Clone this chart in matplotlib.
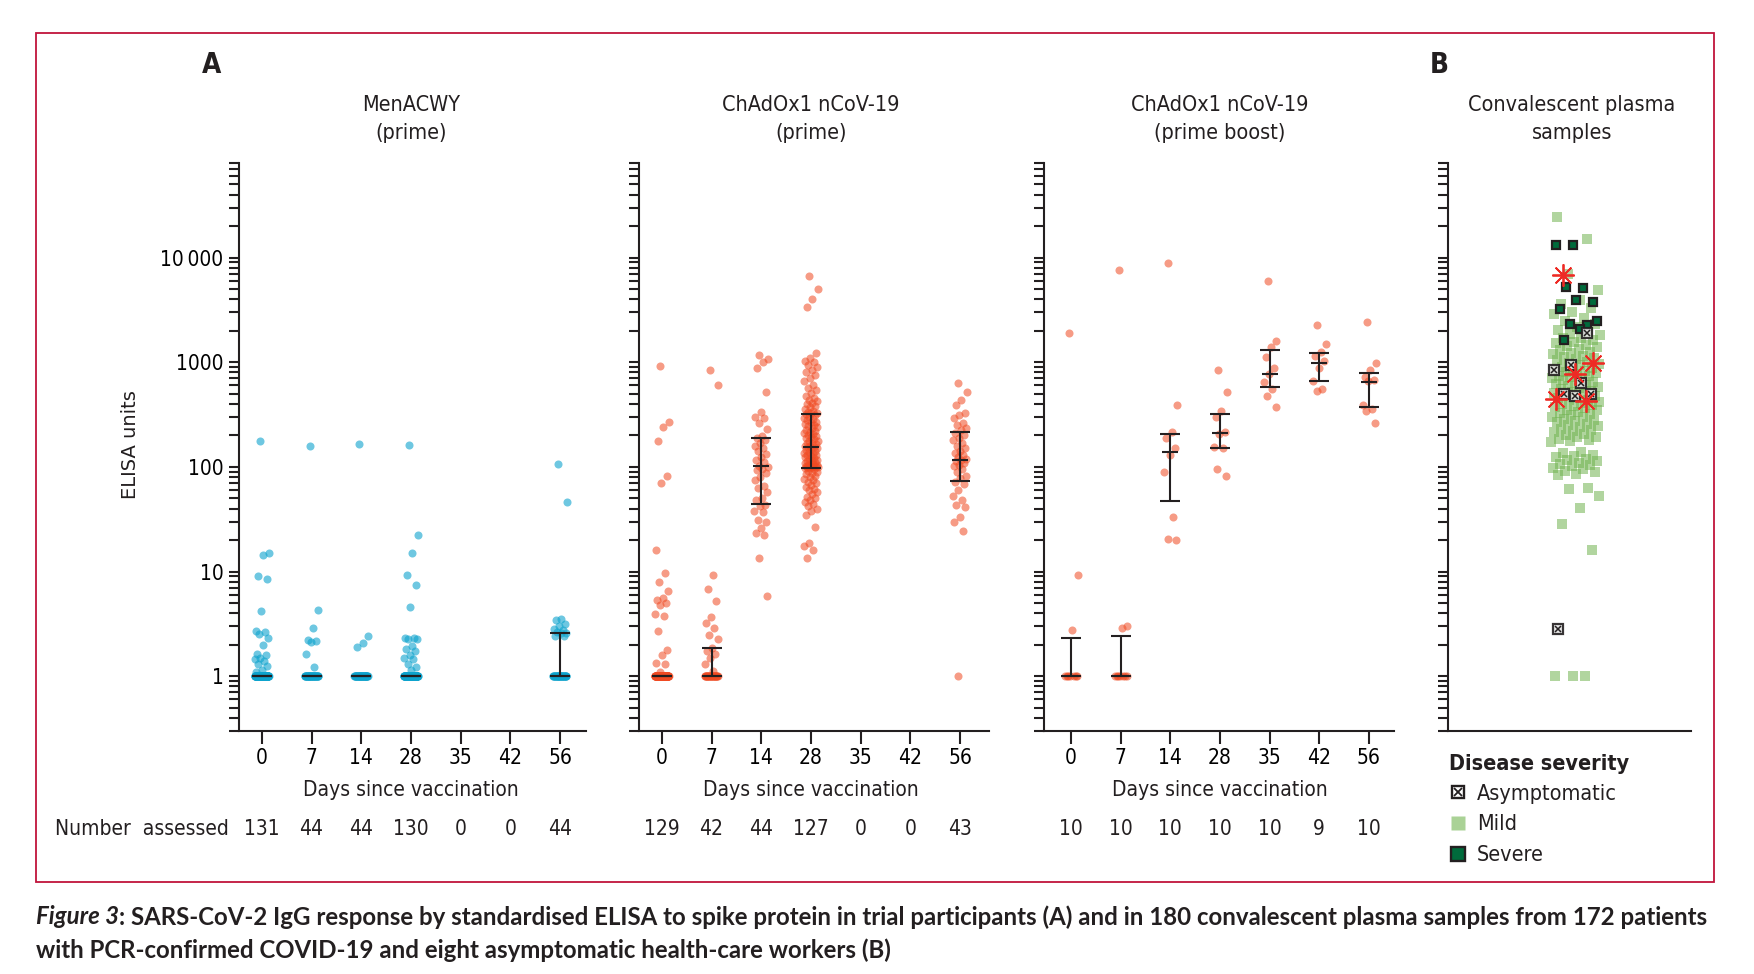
import numpy as np
import matplotlib
matplotlib.use("Agg")
import matplotlib.pyplot as plt
from matplotlib import font_manager as fm
from matplotlib.ticker import FixedLocator, FixedFormatter, LogLocator, NullFormatter
from matplotlib.lines import Line2D
from matplotlib.patches import Rectangle
from matplotlib.transforms import blended_transform_factory
from matplotlib.legend_handler import HandlerTuple

# ---------------- data ----------------
days = [0, 7, 14, 28, 35, 42, 56]
day_labels = ["0", "7", "14", "28", "35", "42", "56"]

menacwy_n = [131, 44, 44, 130, 0, 0, 44]
chad_prime_n = [129, 42, 44, 127, 0, 0, 43]
chad_boost_n = [10, 10, 10, 10, 10, 9, 10]

menacwy_d0 = [175, 15.1, 14.5, 9.0, 8.5, 4.16, 2.73, 2.64, 2.55, 2.3, 2.0, 1.62, 1.58,
              1.49, 1.45, 1.4, 1.31, 1.25, 1.15, 1.1] + [1] * 111
menacwy_d7 = [159, 4.27, 2.92, 2.2, 2.17, 2.12, 1.62, 1.22] + [1] * 36
menacwy_d14 = [167, 2.4, 2.08, 1.91] + [1] * 40
menacwy_d28 = [163, 22.6, 15, 9.35, 7.4, 4.56, 2.32, 2.3, 2.28, 2.25, 1.96, 1.84, 1.73,
               1.6, 1.49, 1.45, 1.3, 1.23, 1.15] + [1] * 111
menacwy_d56 = [107, 46.4, 3.5, 3.45, 3.17, 3.0, 2.8, 2.75, 2.65, 2.6, 2.57, 2.45, 2.42] + [1] * 31
menacwy_values = [menacwy_d0, menacwy_d7, menacwy_d14, menacwy_d28, [], [], menacwy_d56]
menacwy_median = [1, 1, 1, 1, None, None, 1]
menacwy_q1 = [1, 1, 1, 1, None, None, 1]
menacwy_q3 = [1, 1, 1, 1, None, None, 2.57]

prime_d0 = [927, 270, 240, 176, 81.7, 70.8, 16.2, 9.76, 7.96, 6.5, 5.63, 5.36, 4.97, 4.76,
            3.92, 3.76, 2.73, 1.8, 1.59, 1.33, 1.31, 1.1] + [1] * 107
prime_d7 = [845, 603, 9.35, 6.79, 5.18, 3.66, 3.26, 2.92, 2.5, 2.27, 1.88, 1.76, 1.62,
            1.51, 1.31, 1.13] + [1] * 26
prime_d14 = [1183, 1070, 1000, 880, 522, 337, 300, 290, 261, 230, 198,
             188, 180, 171, 160, 150, 141, 133, 125, 117, 111, 102, 100, 96, 92.6, 88, 80,
             74.6, 66, 62.5, 57, 50, 48.5,
             43, 42, 38, 37, 31, 29.6, 26.1, 23.5, 22.6, 13.4, 5.83]
prime_d28 = [6670, 5050, 4050, 3340, 1213, 1090, 1030, 1000, 950, 900, 845, 800, 760, 700,
             660, 603, 570, 540, 510, 472, 455, 440, 425, 407, 395, 380, 370, 356, 345, 338,
             330, 325,
             318, 310, 301, 296, 287, 279, 270, 266, 258, 251, 246, 238, 233, 227, 220, 216,
             211, 205, 200, 196, 191, 187, 183, 178, 175, 171, 168, 164, 160, 158, 156, 154,
             151, 148, 145, 142, 140, 137, 134, 131, 129, 126, 124, 121, 119, 117, 115, 113,
             111, 109, 108, 106, 105, 104, 103, 102, 101, 100.5, 100, 99.6, 99.2, 98.9, 98.6,
             97, 95, 92, 90, 87, 85, 82, 80, 77, 75, 72, 70, 67, 64, 62, 60, 57, 55, 52, 50,
             48, 46, 44, 42, 40, 38, 34.5, 26.6, 18.7, 17.5, 16.2, 13.5]
prime_d56 = [640, 514, 437, 389, 330, 310, 295, 265, 250, 235, 225,
             210, 200, 190, 182, 170, 160, 150, 141, 135, 130, 125, 120, 117, 114, 110, 105,
             101, 95, 89, 82, 78.4,
             72, 69, 60, 52.3, 48, 43.3, 41, 33, 29.6, 24.4, 1]
prime_values = [prime_d0, prime_d7, prime_d14, prime_d28, [], [], prime_d56]
prime_median = [1, 1, 101, 156, None, None, 117]
prime_q1 = [1, 1, 44.5, 98.4, None, None, 73.8]
prime_q3 = [1, 1.87, 190, 323, None, None, 217]

boost_d0 = [1914, 9.27, 2.77] + [1] * 7
boost_d7 = [7640, 3.0, 2.92] + [1] * 7
boost_d14 = [8960, 392, 215, 190, 150, 130, 89, 33, 20.3, 20.0]
boost_d28 = [845, 522, 340, 300, 215, 205, 154, 150, 95, 81.7]
boost_d35 = [5980, 1603, 1400, 1116, 889, 780, 645, 560, 472, 370]
boost_d42 = [2285, 1486, 1240, 1140, 1030, 889, 660, 560, 535]
boost_d56 = [2424, 991, 845, 730, 680, 660, 389, 356, 345, 260]
boost_values = [boost_d0, boost_d7, boost_d14, boost_d28, boost_d35, boost_d42, boost_d56]
boost_median = [1, 1, 140, 212, 777, 991, 646]
boost_q1 = [1, 1, 47.6, 152, 583, 656, 370]
boost_q3 = [2.3, 2.42, 208, 323, 1321, 1235, 796]

conv_mild = [24300, 15000, 6950, 4900, 3900,
             3600, 3300, 3050, 2900, 2650, 2500, 2300, 2150,
             2050, 1950, 1880, 1800, 1720, 1700, 1640, 1560, 1530, 1470, 1430, 1390, 1340,
             1310, 1260, 1230, 1200, 1150, 1130, 1090, 1070, 1040, 1010,
             990, 955, 940, 910, 890, 865, 850, 830, 805, 790, 770, 745, 735, 715, 700, 680,
             670, 650, 640, 625, 605, 595, 575, 565, 550, 535, 525, 510, 500, 485, 478, 462,
             455, 440, 432,
             420, 412, 400, 388, 380, 370, 363, 352, 346, 336, 330, 320, 314, 303, 298, 288,
             283, 274, 268, 258, 254, 245, 240, 231, 227, 220, 215, 207, 203, 195, 192, 185,
             182, 176, 174,
             138, 135, 131, 128, 124, 120, 116, 113, 110, 106, 104, 101, 98, 95, 92, 89, 86,
             84,
             63.4, 61.8, 53,
             40.5, 28.5, 16,
             1, 1, 1]
conv_severe = [13100, 13100, 5090, 5200, 3800, 3930, 3200, 2285, 2330, 2450, 2070, 1630]
conv_asymptomatic = [1900, 943, 845, 630, 500, 495, 480, 2.8]
conv_starred = [6840, 984, 777, 441, 430]

legend_labels = ["Asymptomatic", "Mild", "Severe"]

# ---------------- fonts ----------------
ttf = fm.fontManager.ttflist
names = {f.name for f in ttf}
STRETCH = "normal"
if "Liberation Sans Narrow" in names:
    FAM = "Liberation Sans Narrow"
elif any(f.name == "DejaVu Sans" and str(f.stretch) == "condensed" for f in ttf):
    FAM = "DejaVu Sans"
    STRETCH = "condensed"
else:
    FAM = "Liberation Sans"
CAPFAM = "Lato" if "Lato" in names else FAM
plt.rcParams["font.family"] = [FAM, "DejaVu Sans"]
plt.rcParams["font.stretch"] = STRETCH
INK = "#231F20"
plt.rcParams["text.color"] = INK

# ---------------- figure / layout ----------------
W, H = 1754, 974
fig = plt.figure(figsize=(W / 100, H / 100), dpi=100)


def fx(px):
    return px / W


def fy(py):
    return 1 - py / H


TOP, BOT = 163, 731
STEP = 49.7
YLIM = (0.3, 80000)
LW = 1.5

panels = [
    dict(left=239, zero=261.8, right=586, title=("MenACWY", "(prime)"),
         values=menacwy_values, med=menacwy_median, q1=menacwy_q1, q3=menacwy_q3,
         n=menacwy_n, color="#0DA3CD", alpha=0.6),
    dict(left=639, zero=661.8, right=988.5, title=("ChAdOx1 nCoV-19", "(prime)"),
         values=prime_values, med=prime_median, q1=prime_q1, q3=prime_q3,
         n=chad_prime_n, color="#F04A22", alpha=0.55),
    dict(left=1044, zero=1070.8, right=1393.5, title=("ChAdOx1 nCoV-19", "(prime boost)"),
         values=boost_values, med=boost_median, q1=boost_q1, q3=boost_q3,
         n=chad_boost_n, color="#F04A22", alpha=0.55),
]


def style_yaxis(ax, labels):
    ax.set_yscale("log")
    ax.set_ylim(*YLIM)
    ax.yaxis.set_major_locator(FixedLocator([1, 10, 100, 1000, 10000]))
    if labels:
        ax.yaxis.set_major_formatter(FixedFormatter(["1", "10", "100", "1000", "10\u2009000"]))
    else:
        ax.yaxis.set_major_formatter(NullFormatter())
    ax.yaxis.set_minor_locator(LogLocator(base=10, subs=np.arange(2, 10), numticks=30))
    ax.yaxis.set_minor_formatter(NullFormatter())
    ax.tick_params(axis="y", which="both", direction="out", length=7.2, width=LW,
                   color=INK, labelsize=15, pad=4)
    for s in ("top", "right"):
        ax.spines[s].set_visible(False)
    for s in ("left", "bottom"):
        ax.spines[s].set_linewidth(LW)
        ax.spines[s].set_color(INK)


for k, p in enumerate(panels):
    ax = fig.add_axes([fx(p["left"]), fy(BOT), (p["right"] - p["left"]) / W, (BOT - TOP) / H])
    ax.set_xlim((p["left"] - p["zero"]) / STEP, (p["right"] - p["zero"]) / STEP)
    style_yaxis(ax, labels=(k == 0))
    ax.set_xticks(range(len(days)))
    ax.set_xticklabels(day_labels)
    ax.tick_params(axis="x", direction="out", length=9.4, width=LW, color=INK,
                   labelsize=15, pad=3)
    for i, vals in enumerate(p["values"]):
        if not vals:
            continue
        n = len(vals)
        offs = ((np.arange(n) * 0.6180339887 + 0.37) % 1 - 0.5) * 2 * 0.14
        ax.plot(i + offs, vals, "o", ms=5.8, mew=0, color=p["color"], alpha=p["alpha"],
                zorder=2, clip_on=False)
    for i in range(len(days)):
        med = p["med"][i]
        if med is None:
            continue
        lo, hi = p["q1"][i], p["q3"][i]
        ax.errorbar([i], [med], yerr=[[med - lo], [hi - med]], fmt="none", ecolor=INK,
                    elinewidth=LW, capsize=7.2, capthick=LW, zorder=4)
        ax.plot([i], [med], marker="_", ms=12.2, mew=LW, color=INK, zorder=4)
    tr = blended_transform_factory(ax.transData, fig.transFigure)
    ax.text(3, fy(790), "Days since vaccination", transform=tr, ha="center", va="center",
            fontsize=15)
    for i, n in enumerate(p["n"]):
        ax.text(i, fy(829), str(n), transform=tr, ha="center", va="center", fontsize=15)
    ax.text(3, fy(105), p["title"][0], transform=tr, ha="center", va="center", fontsize=15.5)
    ax.text(3, fy(133), p["title"][1], transform=tr, ha="center", va="center", fontsize=15.5)

# ---------------- panel B ----------------
ax4 = fig.add_axes([fx(1448), fy(BOT), (1691 - 1448) / W, (BOT - TOP) / H])
ax4.set_xlim(-1.05, 0.95)
style_yaxis(ax4, labels=False)
ax4.set_xticks([])

MILD = "#71B450"
SEVERE = "#006B3C"


def jit(n, phase, w=0.2):
    return ((np.arange(n) * 0.6180339887 + phase) % 1 - 0.5) * 2 * w


ax4.plot(jit(len(conv_mild), 0.11), conv_mild, "s", ms=6.8, mew=0, color=MILD, alpha=0.55,
         zorder=2)
ax4.plot(jit(len(conv_severe), 0.43, 0.18), conv_severe, "s", ms=6.4, mfc=SEVERE, mec=INK,
         mew=1.6, zorder=3)
xa = jit(len(conv_asymptomatic), 0.77, 0.18)
ax4.plot(xa, conv_asymptomatic, "s", ms=6.6, mfc="#E6E6E6", mec=INK, mew=1.6, alpha=0.9,
         zorder=4)
ax4.plot(xa, conv_asymptomatic, "x", ms=4.4, mec=INK, mew=1.1, zorder=4)
ax4.plot(jit(len(conv_starred), 0.25, 0.2), conv_starred, marker=(8, 2, 0), ls="none",
         ms=16, mew=1.3, color="#EE2A24", zorder=5)

tr4 = blended_transform_factory(ax4.transData, fig.transFigure)
ax4.text(-0.03, fy(105), "Convalescent plasma", transform=tr4, ha="center", va="center",
         fontsize=15.5)
ax4.text(-0.03, fy(133), "samples", transform=tr4, ha="center", va="center", fontsize=15.5)

h_asym = (Line2D([], [], marker="s", ls="none", ms=9, mfc="white", mec=INK, mew=1.7),
          Line2D([], [], marker="x", ls="none", ms=5.8, mec=INK, mew=1.3))
h_mild = Line2D([], [], marker="s", ls="none", ms=10.5, mfc="#AAD296", mec="none")
h_sev = Line2D([], [], marker="s", ls="none", ms=9.5, mfc=SEVERE, mec=INK, mew=1.7)
leg = fig.legend([h_asym, h_mild, h_sev], legend_labels, title="Disease severity",
                 loc="upper left", bbox_to_anchor=(fx(1449), fy(754)), frameon=False,
                 fontsize=15.5, title_fontproperties={"weight": "bold", "size": 15.5},
                 handlelength=0.8, handletextpad=0.5, labelspacing=0.5, borderpad=0,
                 borderaxespad=0, handler_map={tuple: HandlerTuple(ndivide=1)})
leg._legend_box.align = "left"
leg._legend_box.sep = 7

# ---------------- other labels ----------------
fig.text(fx(130), fy(445), "ELISA units", rotation=90, ha="center", va="center",
         fontsize=14, family=["DejaVu Sans"], stretch="normal")
fig.text(fx(212), fy(65), "A", ha="center", va="center", fontsize=20, weight="bold")
fig.text(fx(1439), fy(65), "B", ha="center", va="center", fontsize=20, weight="bold")
fig.text(fx(55), fy(829), "Number  assessed", ha="left", va="center", fontsize=15)

fig.add_artist(Rectangle((fx(36), fy(882)), (1714 - 36) / W, (882 - 33) / H,
                         transform=fig.transFigure, fill=False, ec="#C0143C", lw=1.3))

# ---------------- caption (fitted to width) ----------------
renderer = fig.canvas.get_renderer()
cap1 = [("Figure 3", dict(style="italic", weight="bold")),
        (": SARS-CoV-2 IgG response by standardised ELISA to spike protein in trial "
         "participants (A) and in 180 convalescent plasma samples from 172 patients",
         dict(weight="bold"))]
cap2 = [("with PCR-confirmed COVID-19 and eight asymptomatic health-care workers (B)",
         dict(weight="bold"))]


def place(runs, x0, ypx, fs):
    objs = []
    x = x0
    for s, st in runs:
        t = fig.text(fx(x), fy(ypx), s, ha="left", va="center", fontsize=fs,
                     family=[CAPFAM, "DejaVu Sans"], stretch="normal", **st)
        bb = t.get_window_extent(renderer=renderer)
        x = bb.x1
        objs.append(t)
    return objs, x - x0


fs = 14.5
for _ in range(3):
    objs, wdt = place(cap1, 36, 917, fs)
    for o in objs:
        o.remove()
    fs = fs * (1702 - 36) / wdt
place(cap1, 36, 917, fs)
place(cap2, 36, 950, fs)

fig.savefig("out.png", dpi=100)
